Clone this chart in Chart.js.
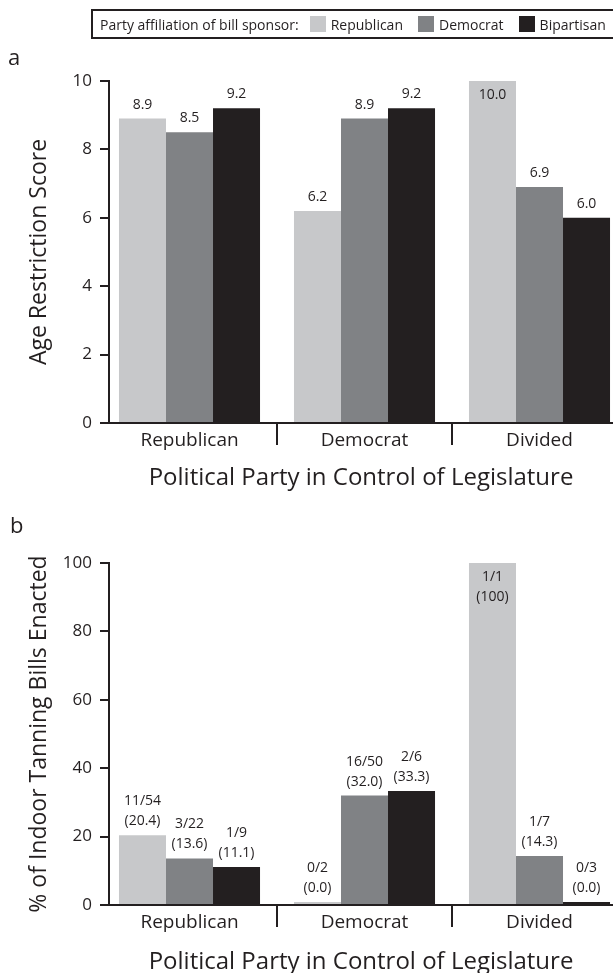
<!DOCTYPE html>
<html>
<head>
<meta charset="utf-8">
<script src="https://cdn.jsdelivr.net/npm/chart.js@4.4.1/dist/chart.umd.min.js"></script>
<style>
  body { margin: 0; width: 613px; height: 973px; overflow: hidden; position: relative; background: #fff; font-family: "Open Sans", sans-serif; color: #231f20; }
  canvas { position: absolute; left: 0; }
  #chart-a { top: 0; }
  #chart-b { top: 500px; }
  #legend { position: absolute; left: 91px; top: 9px; width: 518px; height: 26px; border: 2px solid #231f20; display: flex; align-items: center; font-size: 14px; padding-left: 7px; box-sizing: content-box; z-index: 2; white-space: nowrap; }
  #legend .swatch { width: 16px; height: 16px; margin-left: 11px; margin-right: 5px; display: inline-block; }
  #legend span.item + span.item .swatch { margin-left: 15px; }
  .panel { position: absolute; font-size: 22px; line-height: 1; z-index: 2; }
</style>
</head>
<body>
<div id="legend"><span>Party affiliation of bill sponsor:</span></div>
<div class="panel" style="left:8px; top:45px;">a</div>
<div class="panel" style="left:10px; top:513px;">b</div>
<canvas id="chart-a" width="613" height="500"></canvas>
<canvas id="chart-b" width="613" height="473"></canvas>
<script>
// Legislature control groups and bill sponsor parties
const groups = ['Republican', 'Democrat', 'Divided'];
const sponsors = ['Republican', 'Democrat', 'Bipartisan'];
const colors = ['#c7c8ca', '#808285', '#231f20'];
const ink = '#231f20';
const fontFamily = '"Open Sans", sans-serif';

// (a) age restriction score, one array per sponsor party
const scoreRep = [8.9, 6.2, 10.0];
const scoreDem = [8.5, 8.9, 6.9];
const scoreBip = [9.2, 9.2, 6.0];

// (b) bills enacted / bills introduced, and percent enacted
const enactedRep = [11, 0, 1];
const totalRep = [54, 2, 1];
const pctRep = [20.4, 0.0, 100];
const enactedDem = [3, 16, 1];
const totalDem = [22, 50, 7];
const pctDem = [13.6, 32.0, 14.3];
const enactedBip = [1, 2, 0];
const totalBip = [9, 6, 3];
const pctBip = [11.1, 33.3, 0.0];

const scoreTicks = [0, 2, 4, 6, 8, 10];
const pctTicks = [0, 20, 40, 60, 80, 100];

// shared legend
const legend = document.getElementById('legend');
sponsors.forEach((name, i) => {
    const item = document.createElement('span');
    item.className = 'item';
    item.style.display = 'flex';
    item.style.alignItems = 'center';
    item.innerHTML = `<span class="swatch" style="background:${colors[i]}"></span><span>${name}</span>`;
    legend.appendChild(item);
});

const fmtPct = v => v === 100 ? '100' : v.toFixed(1);

// draws value labels over (or inside, when there is no room) each bar
const barLabels = {
    id: 'barLabels',
    afterDatasetsDraw(chart, args, opts) {
        const { ctx, chartArea } = chart;
        ctx.save();
        ctx.font = `14px ${fontFamily}`;
        ctx.fillStyle = ink;
        ctx.textAlign = 'center';
        ctx.textBaseline = 'middle';
        chart.data.datasets.forEach((ds, di) => {
            chart.getDatasetMeta(di).data.forEach((bar, i) => {
                const lines = opts.lines(di, i);
                const gap = 14, step = 20;
                let y = bar.y - gap - (lines.length - 1) * step;
                if (y - 7 < chartArea.top) y = bar.y + gap;
                lines.forEach((t, k) => ctx.fillText(t, bar.x, y + k * step));
            });
        });
        ctx.restore();
    }
};

function makeChart(id, series, yMax, yTicks, yTitle, lineFn, topPad, xHeight, titlePad) {
    return new Chart(document.getElementById(id), {
        type: 'bar',
        data: {
            datasets: series.map((vals, s) => ({
                label: sponsors[s],
                data: vals.map((v, i) => ({ x: i, y: v })),
                backgroundColor: colors[s],
                borderWidth: 0,
                minBarLength: 3,
                categoryPercentage: 0.806,
                barPercentage: 1.0
            }))
        },
        options: {
            responsive: false,
            animation: false,
            layout: { padding: { top: topPad, left: 0, right: 0, bottom: 0 } },
            plugins: {
                legend: { display: false },
                tooltip: { enabled: false },
                barLabels: { lines: lineFn }
            },
            scales: {
                x: {
                    type: 'linear',
                    min: -0.46,
                    max: 2.42,
                    offset: false,
                    afterFit: s => { s.height = xHeight; },
                    afterBuildTicks: s => { s.ticks = groups.map((g, i) => ({ value: i })); },
                    ticks: {
                        maxRotation: 0,
                        autoSkip: false,
                        padding: -16,
                        color: ink,
                        font: { family: fontFamily, size: 19 },
                        callback: v => groups[v]
                    },
                    grid: {
                        offset: true,
                        drawOnChartArea: false,
                        tickLength: 22,
                        lineWidth: 2,
                        color: ink
                    },
                    border: { display: true, color: ink, width: 2 },
                    title: {
                        display: true,
                        text: 'Political Party in Control of Legislature',
                        color: ink,
                        font: { family: fontFamily, size: 24, lineHeight: 1 },
                        padding: { top: 0, bottom: titlePad }
                    }
                },
                y: {
                    min: 0,
                    max: yMax,
                    afterFit: s => { s.width = 109; },
                    afterBuildTicks: s => { s.ticks = yTicks.map(v => ({ value: v })); },
                    ticks: {
                        padding: 8,
                        color: ink,
                        font: { family: fontFamily, size: 17 }
                    },
                    grid: {
                        drawOnChartArea: false,
                        tickLength: 9,
                        lineWidth: 2,
                        color: ink
                    },
                    border: { display: true, color: ink, width: 2 },
                    title: {
                        display: true,
                        text: yTitle,
                        color: ink,
                        font: { family: fontFamily, size: 23, lineHeight: 1 },
                        padding: { top: 28, bottom: 0 }
                    }
                }
            }
        },
        plugins: [barLabels]
    });
}

const scores = [scoreRep, scoreDem, scoreBip];
makeChart('chart-a', scores, 10, scoreTicks, 'Age Restriction Score',
    (s, i) => [scores[s][i].toFixed(1)], 81, 77, 10);

const enacted = [enactedRep, enactedDem, enactedBip];
const totals = [totalRep, totalDem, totalBip];
const pcts = [pctRep, pctDem, pctBip];
makeChart('chart-b', pcts, 100, pctTicks, '% of Indoor Tanning Bills Enacted',
    (s, i) => [`${enacted[s][i]}/${totals[s][i]}`, `(${fmtPct(pcts[s][i])})`], 63, 68, -1);
</script>
</body>
</html>
